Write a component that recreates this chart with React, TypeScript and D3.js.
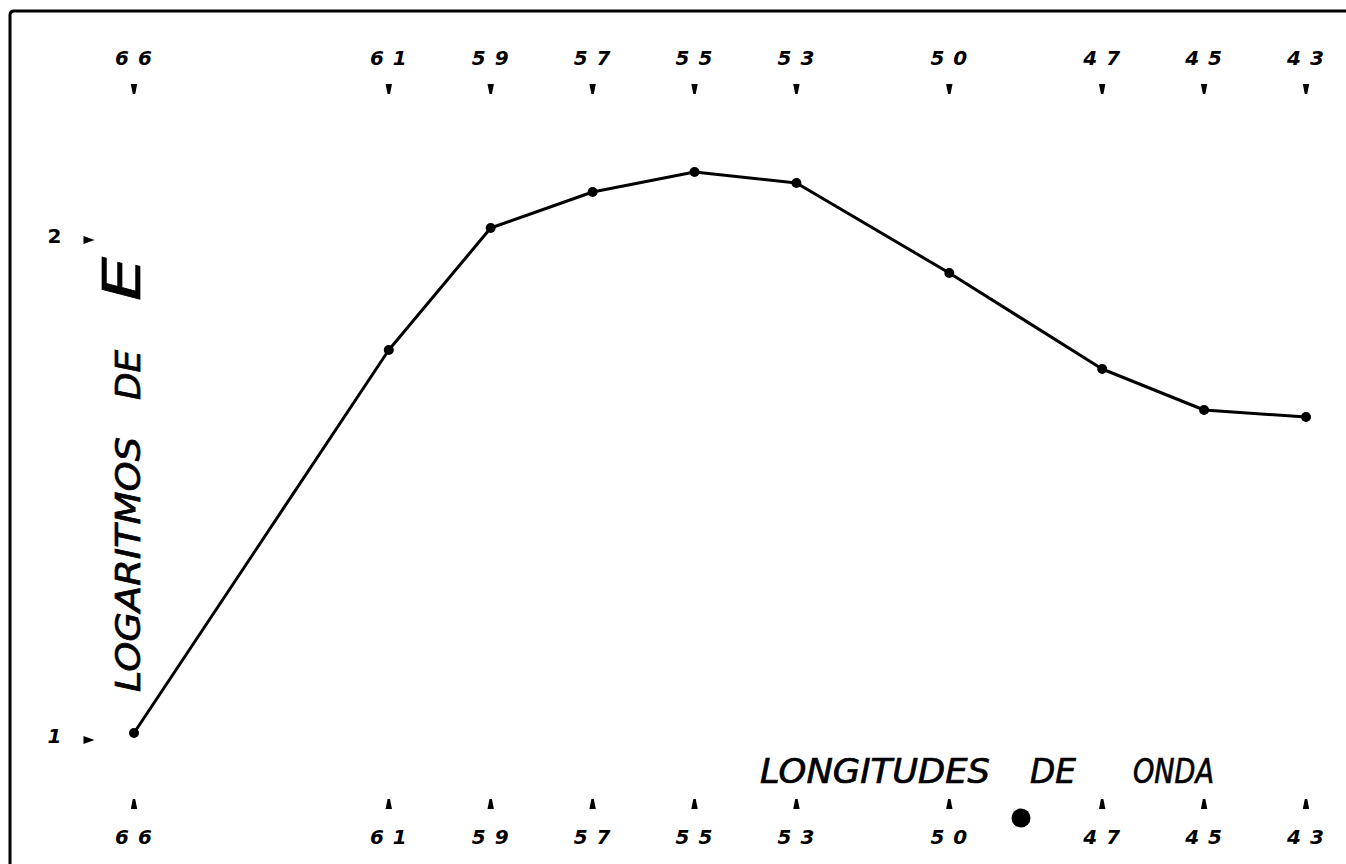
import React, { useEffect, useRef } from 'react';
import * as d3 from 'd3';

// wavelengths (upper + lower scale) and log E values
const wavelengths = [66, 61, 59, 57, 55, 53, 50, 47, 45, 43];
const logE = [1.01, 1.776, 2.02, 2.092, 2.132, 2.11, 1.93, 1.738, 1.656, 1.642];
const topLabels = ['66', '61', '59', '57', '55', '53', '50', '47', '45', '43'];
const bottomLabels = ['66', '61', '59', '57', '55', '53', '50', '47', '45', '43'];
const yTicks = [1, 2];
const xTitleWords = ['LONGITUDES', 'DE', 'ONDA'];
const yTitleWords = ['LOGARITMOS', 'DE'];

const W = 1346;
const H = 864;

const App: React.FC = () => {
  const svgRef = useRef<SVGSVGElement>(null);

  useEffect(() => {
    if (!svgRef.current) return;
    const svg = d3.select(svgRef.current);
    svg.selectAll('*').remove();

    const x = d3.scaleLinear().domain([66, 43]).range([134, 1306]);
    const y = d3.scaleLinear().domain([1, 2]).range([738, 238]);

    const ink = '#000';
    const numFont = "'DejaVu Sans', sans-serif";

    // frame (left + top only)
    svg.append('path')
      .attr('d', `M10,${H} L10,15 Q10,11 14,11 L${W},11`)
      .attr('fill', 'none')
      .attr('stroke', ink)
      .attr('stroke-width', 3);

    const numLabel = (t: d3.Selection<SVGTextElement, any, any, any>) =>
      t.attr('text-anchor', 'middle')
        .style('font-family', numFont)
        .style('font-size', '20px')
        .style('font-weight', 'bold')
        .style('font-style', 'italic')
        .style('letter-spacing', '1px');

    // top scale
    const top = svg.append('g');
    top.selectAll('text')
      .data(wavelengths)
      .join('text')
      .attr('x', d => x(d))
      .attr('y', 65)
      .call(numLabel)
      .text((d, i) => topLabels[i].split('').join(' '));

    top.selectAll('path')
      .data(wavelengths)
      .join('path')
      .attr('transform', d => `translate(${x(d)},89)`)
      .attr('d', 'M-3.2,-5 L3.2,-5 L1.2,5 L-1.2,5 Z')
      .attr('fill', ink);

    // bottom scale
    const bottom = svg.append('g');
    bottom.selectAll('path')
      .data(wavelengths)
      .join('path')
      .attr('transform', d => `translate(${x(d)},804)`)
      .attr('d', 'M-1.2,-5 L1.2,-5 L3.2,5 L-3.2,5 Z')
      .attr('fill', ink);

    bottom.selectAll('text')
      .data(wavelengths)
      .join('text')
      .attr('x', d => x(d))
      .attr('y', 844)
      .call(numLabel)
      .text((d, i) => bottomLabels[i].split('').join(' '));

    // y ticks
    const yAxis = svg.append('g');
    yAxis.selectAll('path')
      .data(yTicks)
      .join('path')
      .attr('transform', d => `translate(89,${y(d) + 2})`)
      .attr('d', 'M-5.5,-4 L5.5,0 L-5.5,4 Z')
      .attr('fill', ink);

    yAxis.selectAll('text')
      .data(yTicks)
      .join('text')
      .attr('x', 55)
      .attr('y', d => y(d) + 5)
      .call(numLabel)
      .style('font-style', (d) => (d === 1 ? 'italic' : 'normal'))
      .text(d => String(d));

    // curve
    const pts = wavelengths.map((w, i) => [x(w), y(logE[i])] as [number, number]);
    svg.append('path')
      .datum(pts)
      .attr('d', d3.line())
      .attr('fill', 'none')
      .attr('stroke', ink)
      .attr('stroke-width', 3)
      .attr('stroke-linejoin', 'round');

    svg.append('g')
      .selectAll('circle')
      .data(pts)
      .join('circle')
      .attr('cx', d => d[0])
      .attr('cy', d => d[1])
      .attr('r', 5)
      .attr('fill', ink);

    // stray ink blot near the lower scale
    svg.append('circle')
      .attr('cx', 1021)
      .attr('cy', 818)
      .attr('r', 9.5)
      .attr('fill', ink);

    // titles
    const titleStyle = (t: d3.Selection<SVGTextElement, any, any, any>) =>
      t.style('font-family', numFont)
        .style('font-size', '33px')
        .style('font-style', 'italic')
        .style('font-weight', 'normal')
        .attr('stroke', ink)
        .attr('stroke-width', 0.7)
        .attr('lengthAdjust', 'spacingAndGlyphs');

    const xSpans: [number, number][] = [[760, 230], [1030, 46], [1133, 81]];
    xTitleWords.forEach((w, i) => {
      svg.append('text')
        .attr('x', xSpans[i][0])
        .attr('y', 783)
        .attr('textLength', xSpans[i][1])
        .call(titleStyle)
        .text(w);
    });

    // y title (rotated)
    const ySpans: [number, number][] = [[692, 255], [400, 50]];
    yTitleWords.forEach((w, i) => {
      svg.append('text')
        .attr('transform', `translate(140,${ySpans[i][0]}) rotate(-90)`)
        .attr('textLength', ySpans[i][1])
        .call(titleStyle)
        .text(w);
    });
    svg.append('text')
      .attr('transform', `translate(140,301) rotate(-90)`)
      .attr('textLength', 44)
      .call(titleStyle)
      .style('font-size', '52px')
      .text('E');
  }, []);

  return (
    <svg
      ref={svgRef}
      width={W}
      height={H}
      style={{ position: 'absolute', left: 0, top: 0, background: '#fff' }}
    />
  );
};

export default App;
